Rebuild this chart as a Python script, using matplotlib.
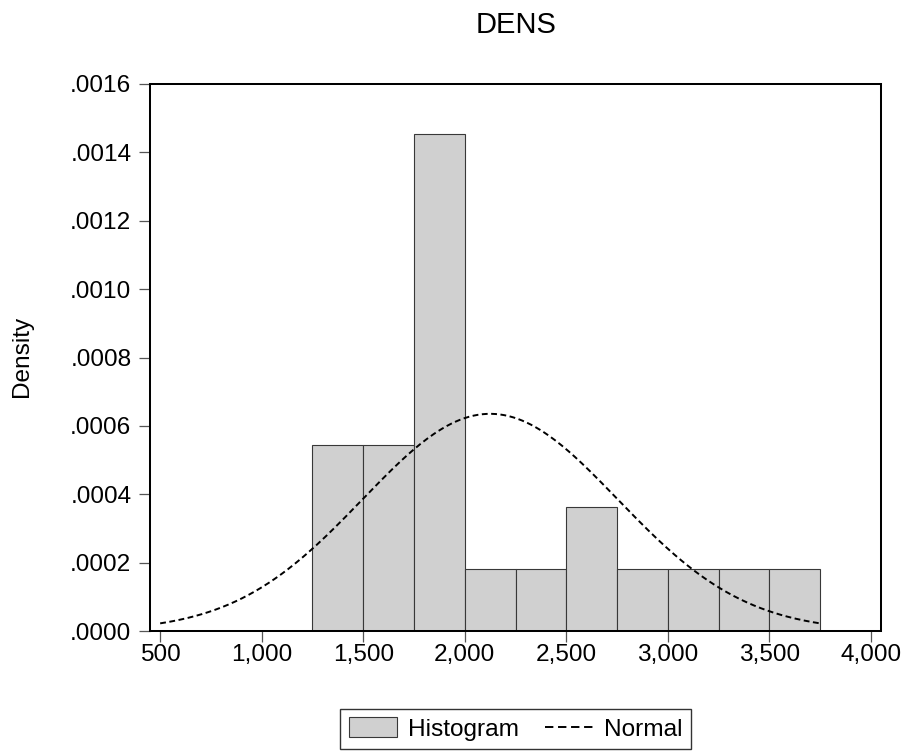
import numpy as np
import matplotlib
matplotlib.use("Agg")
import matplotlib.pyplot as plt
from matplotlib.patches import Patch
from matplotlib.lines import Line2D
from matplotlib.ticker import FuncFormatter

plt.rcParams['font.family'] = ['Liberation Sans', 'DejaVu Sans']

# histogram bins (left edges) and densities
bin_left = [1250, 1500, 1750, 2000, 2250, 2500, 2750, 3000, 3250, 3500]
bin_width = 250
density = [0.000545, 0.000545, 0.001455, 0.000182, 0.000182,
           0.000364, 0.000182, 0.000182, 0.000182, 0.000182]

# fitted normal density
norm_mean = 2125.0
norm_sd = 628.0
norm_from, norm_to = 500, 3750

xticks = [500, 1000, 1500, 2000, 2500, 3000, 3500, 4000]
yticks = [0.0, 0.0002, 0.0004, 0.0006, 0.0008, 0.0010, 0.0012, 0.0014, 0.0016]

fig = plt.figure(figsize=(9.09, 7.51), dpi=100)
ax = fig.add_axes([150/909, 1-631/751, 731/909, 547/751])

ax.bar(bin_left, density, width=bin_width, align='edge',
       color='#d0d0d0', edgecolor='#383838', linewidth=0.8)

xs = np.linspace(norm_from, norm_to, 300)
ys = np.exp(-0.5*((xs-norm_mean)/norm_sd)**2)/(norm_sd*np.sqrt(2*np.pi))
ax.plot(xs, ys, color='black', linewidth=1.4, dashes=(3, 1.8))

ax.set_xlim(450, 4050)
ax.set_ylim(0, 0.0016)
ax.set_xticks(xticks)
ax.set_yticks(yticks)
ax.xaxis.set_major_formatter(FuncFormatter(lambda v, p: '{:,.0f}'.format(v)))
ax.yaxis.set_major_formatter(FuncFormatter(lambda v, p: '{:.4f}'.format(v)[1:]))
ax.tick_params(axis='both', direction='out', length=7.9, width=0.9,
               color='#555555', labelsize=17.6)
ax.tick_params(axis='y', pad=5.5)
ax.tick_params(axis='x', pad=1.5)
for s in ax.spines.values():
    s.set_linewidth(1.45)
    s.set_color('black')

fig.text(22/909, 1-356/751, 'Density', rotation=90, ha='center', va='center',
         fontsize=17.6)
fig.text(516/909, 1-25/751, 'DENS', ha='center', va='center', fontsize=21)

handles = [Patch(facecolor='#d0d0d0', edgecolor='#383838', linewidth=0.8),
           Line2D([], [], color='black', linewidth=1.4, dashes=(4.3, 2.4))]
leg = fig.legend(handles, ['Histogram', 'Normal'], loc='center',
                 bbox_to_anchor=(515.5/909, 1-729/751), ncol=2, fontsize=17.6,
                 frameon=True, fancybox=False, edgecolor='black',
                 handlelength=1.97, handleheight=0.86, handletextpad=0.45,
                 columnspacing=1.05, borderpad=0.35, borderaxespad=0)
leg.get_frame().set_linewidth(1.0)

fig.savefig('out.png', dpi=100)
